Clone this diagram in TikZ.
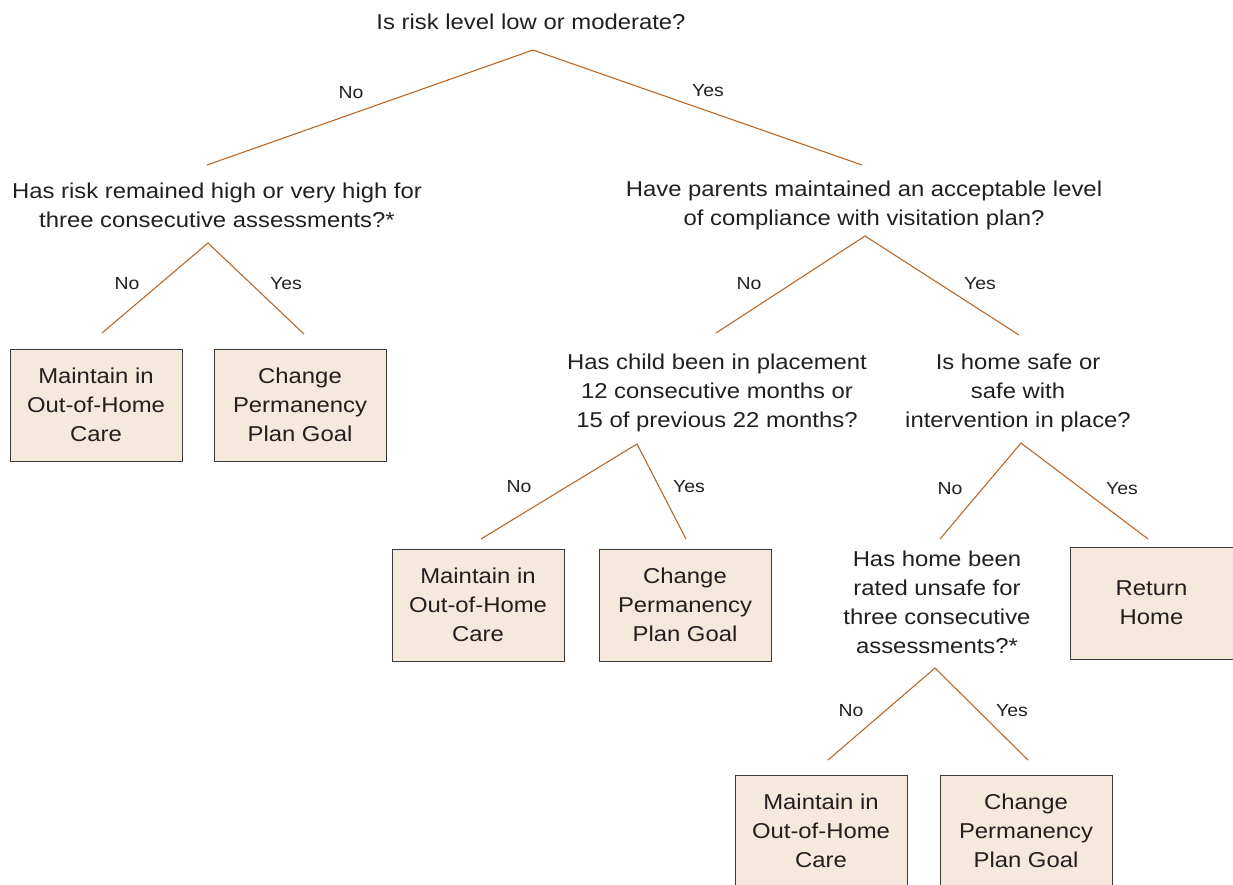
\documentclass[tikz,border=0pt]{standalone}
\usepackage{fontspec}
\setmainfont[FakeStretch=1.11]{Liberation Sans}
\definecolor{linebrown}{HTML}{B8692A}
\definecolor{boxfill}{HTML}{F5E8DD}
\definecolor{boxline}{HTML}{3A3A3A}
\definecolor{txt}{HTML}{231F20}
\begin{document}
\begin{tikzpicture}[x=1pt,y=-1pt,
  q/.style={align=center,inner sep=0pt,text=txt,font=\fontsize{21.5}{29}\selectfont},
  lbl/.style={inner sep=0pt,text=txt,font=\fontsize{17.5}{20}\selectfont},
  outcome/.style={draw=boxline,line width=1pt,fill=boxfill,minimum width=172pt,minimum height=112pt,align=center,inner sep=0pt,text=txt,font=\fontsize{21.5}{29}\selectfont},
  br/.style={draw=linebrown,line width=1.1pt}]
\useasboundingbox (0,0) rectangle (1233,884);
% root
\node[q] (q1) at (531,22) {Is risk level low or moderate?};
\coordinate (a1) at (533,50);
\coordinate (l1) at (207,165);
\coordinate (r1) at (862,165);
\draw[br] (l1) -- (a1) -- (r1);
\node[lbl] (n1) at (351,93) {No};
\node[lbl] (y1) at (708,91) {Yes};
% left question
\node[q] (q2) at (217,205) {Has risk remained high or very high for\\three consecutive assessments?*};
\coordinate (a2) at (208,243);
\coordinate (l2) at (102,333);
\coordinate (r2) at (304,334);
\draw[br] (l2) -- (a2) -- (r2);
\node[lbl] (n2) at (127,284) {No};
\node[lbl] (y2) at (286,284) {Yes};
\node[outcome] (b1) at (96,405) {Maintain in\\Out-of-Home\\Care};
\node[outcome] (b2) at (300,405) {Change\\Permanency\\Plan Goal};
% right question
\node[q] (q3) at (864,205) {Have parents maintained an acceptable level\\of compliance with visitation plan?};
\coordinate (a3) at (865,236);
\coordinate (l3) at (716,333);
\coordinate (r3) at (1019,335);
\draw[br] (l3) -- (a3) -- (r3);
\node[lbl] (n3) at (749,284) {No};
\node[lbl] (y3) at (980,284) {Yes};
% child placement question
\node[q] (q4) at (717,393) {Has child been in placement\\12 consecutive months or\\15 of previous 22 months?};
\coordinate (a4) at (637,444);
\coordinate (l4) at (481,539);
\coordinate (r4) at (686,539);
\draw[br] (l4) -- (a4) -- (r4);
\node[lbl] (n4) at (519,487) {No};
\node[lbl] (y4) at (689,487) {Yes};
\node[outcome] (b3) at (478,605) {Maintain in\\Out-of-Home\\Care};
\node[outcome] (b4) at (685,605) {Change\\Permanency\\Plan Goal};
% home safe question
\node[q] (q5) at (1018,393) {Is home safe or\\safe with\\intervention in place?};
\coordinate (a5) at (1021,443);
\coordinate (l5) at (940,539);
\coordinate (r5) at (1148,539);
\draw[br] (l5) -- (a5) -- (r5);
\node[lbl] (n5) at (950,489) {No};
\node[lbl] (y5) at (1122,489) {Yes};
\node[outcome,minimum width=163pt] (b5) at (1151.5,603) {Return\\Home};
% unsafe question
\node[q] (q6) at (937,602) {Has home been\\rated unsafe for\\three consecutive\\assessments?*};
\coordinate (a6) at (935,668);
\coordinate (l6) at (828,760);
\coordinate (r6) at (1028,760);
\draw[br] (l6) -- (a6) -- (r6);
\node[lbl] (n6) at (851,711) {No};
\node[lbl] (y6) at (1012,711) {Yes};
\node[outcome] (b6) at (821,831) {Maintain in\\Out-of-Home\\Care};
\node[outcome] (b7) at (1026,831) {Change\\Permanency\\Plan Goal};
\end{tikzpicture}
\end{document}
